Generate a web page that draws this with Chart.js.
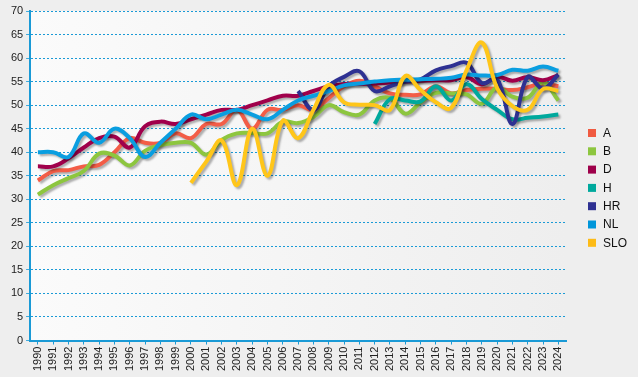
<!DOCTYPE html>
<html>
<head>
<meta charset="utf-8">
<script src="https://cdn.jsdelivr.net/npm/chart.js@4.4.1/dist/chart.umd.min.js"></script>
<style>
  html, body { margin: 0; padding: 0; background: #eeeeee; }
</style>
</head>
<body>
<canvas id="turnoutChart" width="638" height="377"></canvas>
<script>
const years = ['1990','1991','1992','1993','1994','1995','1996','1997','1998','1999',
  '2000','2001','2002','2003','2004','2005','2006','2007','2008','2009',
  '2010','2011','2012','2013','2014','2015','2016','2017','2018','2019',
  '2020','2021','2022','2023','2024']

const seriesNames = ['A', 'B', 'D', 'H', 'HR', 'NL', 'SLO']
const seriesColors = ['#f35d47', '#8dc63f', '#a0004b', '#00a99d', '#2e3192', '#0a9ee0', '#ffc61a']
const legendColors = ['#f05a40', '#8dc63f', '#9e004a', '#00a99d', '#2e3192', '#0096da', '#fdbb16']

const valuesA = [34, 36, 36.2, 37, 37.3, 40, 43, 42, 42, 44,
  43, 46, 46, 49, 45, 49, 49, 50, 49, 51.5,
  54, 55.2, 54, 52.5, 52.2, 52.3, 54, 52.5, 53.2, 53.5,
  53.5, 53.2, 53.8, 54.6, 54]
const valuesB = [31, 33, 34.5, 36, 39.7, 39.3, 37.2, 40.3, 41.5, 42,
  42, 39.5, 42.6, 44, 44.1, 44, 46.5, 46.2, 47.5, 50,
  48.5, 48, 51, 51.5, 48.2, 50.6, 52.6, 52.5, 52.3, 50.3,
  53.8, 51.8, 51.6, 54.8, 51]
const valuesD = [37, 37, 38.7, 41, 43, 43.3, 41, 45.5, 46.5, 46,
  47, 48, 49, 49, 50, 51, 52, 52, 53, 54,
  54.5, 54.5, 54.6, 54.8, 55, 55.2, 55.3, 55.3, 56, 54.4,
  56, 55.2, 56, 55.3, 56.4]
const valuesH = [null, null, null, null, null, null, null, null, null, null,
  null, null, null, null, null, null, null, null, null, null,
  null, null, 46, 51.3, 51, 50.8, 54, 51, 54.5, 51.3,
  49, 47, 47.3, 47.6, 48]
const valuesHR = [null, null, null, null, null, null, null, null, null, null,
  null, null, null, null, null, null, null, 53, 49, 54,
  56, 57.2, 53, 54, 55, 55.5, 57.4, 58.3, 59, 54.7,
  55.5, 46, 56, 53.5, 56.5]
const valuesNL = [40, 40, 39, 44, 42, 45, 43, 39, 42, 45,
  48, 47, 48, 49, 48, 47, 49, 51, 52, 53,
  54.2, 54.6, 55, 55.3, 55.4, 55.5, 55.6, 55.8, 56.5, 56.3,
  56.4, 57.5, 57.3, 58.2, 57.3]
const valuesSLO = [null, null, null, null, null, null, null, null, null, null,
  33.5, 38, 42.5, 33, 45, 35, 46.7, 43, 49, 54.3,
  50.6, 50.1, 50, 49, 56.2, 53.2, 50.6, 49.4, 57.4, 63.3,
  53.6, 49.8, 49, 53.4, 53]

const yTicks = [0, 5, 10, 15, 20, 25, 30, 35, 40, 45, 50, 55, 60, 65, 70]

const allValues = [valuesA, valuesB, valuesD, valuesH, valuesHR, valuesNL, valuesSLO]
const axisBlue = '#1a9ad6'

const background = {
  id: 'background',
  beforeDraw(chart) {
    const {ctx, chartArea} = chart
    ctx.save()
    ctx.fillStyle = '#eeeeee'
    ctx.fillRect(0, 0, chart.width, chart.height)
    const grad = ctx.createLinearGradient(chartArea.left, 0, chartArea.right, 0)
    grad.addColorStop(0, '#fbfbfb')
    grad.addColorStop(1, '#eeeeee')
    ctx.fillStyle = grad
    ctx.fillRect(chartArea.left, chartArea.top, chartArea.right - chartArea.left, chartArea.bottom - chartArea.top)
    ctx.restore()
  }
}

const lineShadow = {
  id: 'lineShadow',
  beforeDatasetDraw(chart) {
    const ctx = chart.ctx
    ctx.save()
    ctx.shadowColor = 'rgba(0,0,0,0.3)'
    ctx.shadowBlur = 2
    ctx.shadowOffsetX = 2
    ctx.shadowOffsetY = 2
  },
  afterDatasetDraw(chart) {
    chart.ctx.restore()
  }
}

// simple legend on the right, squares + labels
const sideLegend = {
  id: 'sideLegend',
  afterDraw(chart) {
    const ctx = chart.ctx
    ctx.save()
    ctx.font = '12px "Liberation Sans", Arial, sans-serif'
    ctx.textBaseline = 'middle'
    chart.data.datasets.forEach((ds, i) => {
      const cy = 133 + i * 18.3
      ctx.fillStyle = legendColors[i]
      ctx.fillRect(588, cy - 4, 8, 8)
      ctx.fillStyle = '#111111'
      ctx.fillText(ds.label, 603, cy + 0.5)
    })
    ctx.restore()
  }
}

Chart.defaults.font.family = '"Liberation Sans", Arial, sans-serif'
Chart.defaults.font.size = 11
Chart.defaults.color = '#222222'

const turnoutChart = new Chart(document.getElementById('turnoutChart'), {
  type: 'line',
  data: {
    labels: years,
    datasets: seriesNames.map((name, i) => ({
      label: name,
      data: allValues[i],
      borderColor: seriesColors[i],
      backgroundColor: seriesColors[i],
      borderWidth: 4,
      pointRadius: 0,
      tension: 0.4,
      fill: false,
      order: seriesNames.length - i
    }))
  },
  options: {
    responsive: false,
    animation: false,
    layout: { padding: { left: 8, top: 11, right: 72, bottom: 4 } },
    plugins: {
      legend: { display: false },
      tooltip: { enabled: false }
    },
    scales: {
      x: {
        offset: true,
        grid: {
          offset: false,
          drawOnChartArea: false,
          tickLength: 4,
          tickColor: axisBlue
        },
        border: { display: true, color: axisBlue, width: 2 },
        ticks: { minRotation: 90, maxRotation: 90, autoSkip: false, padding: 2, color: '#222222' }
      },
      y: {
        min: 0,
        max: 70,
        afterBuildTicks(scale) {
          scale.ticks = yTicks.map(v => ({ value: v }))
        },
        grid: {
          color: axisBlue,
          lineWidth: 1,
          tickLength: 4,
          tickColor: axisBlue,
          tickBorderDash: [1, 0]
        },
        border: { display: true, color: axisBlue, width: 2, dash: [2, 2] },
        ticks: { padding: 3, color: '#222222' }
      }
    }
  },
  plugins: [background, lineShadow, sideLegend]
})
</script>
</body>
</html>
